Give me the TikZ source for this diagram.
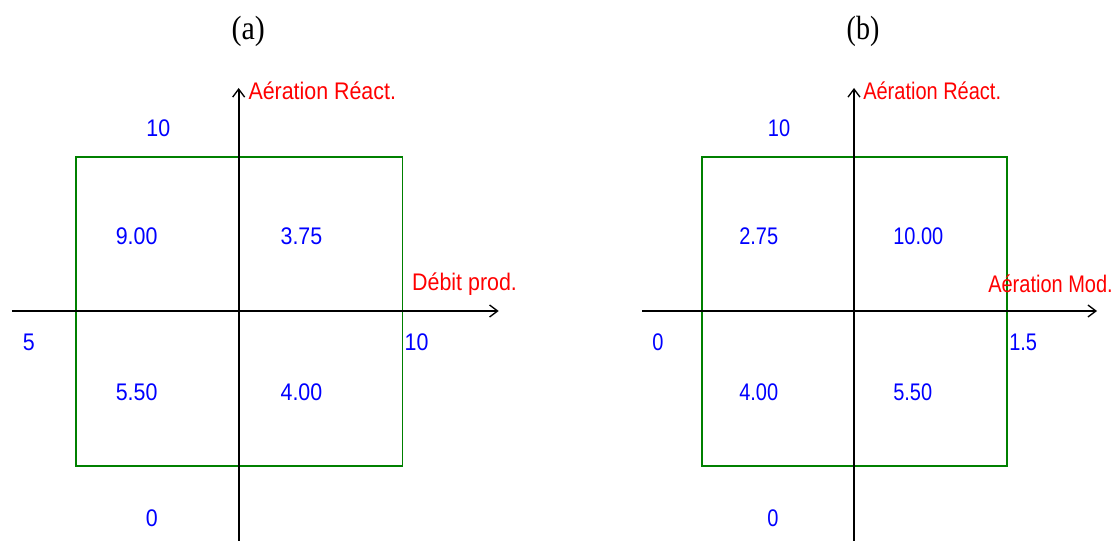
\documentclass[tikz,border=0pt]{standalone}
\usepackage{fontspec}
\setmainfont{Liberation Serif}
\newfontfamily\guifont{Liberation Sans}
\usepackage{xcolor}
\usepackage{graphicx}
\usetikzlibrary{arrows.meta}
\definecolor{guiblue}{RGB}{0,0,255}
\definecolor{guired}{RGB}{255,0,0}
\definecolor{guigreen}{RGB}{0,128,0}
\newcommand{\stretched}[1]{\scalebox{\sx}[1.2]{#1}}
\tikzset{
  axis/.style = {line width=1.3pt, -{Straight Barb[length=6pt,width=9pt,line width=1pt]}},
  frame/.style = {draw=guigreen, line width=1.3pt},
  val/.style = {text=guiblue, inner sep=0pt, font=\guifont\fontsize{15}{18}\selectfont},
  axlab/.style = {text=guired, inner sep=0pt, anchor=west, font=\guifont\fontsize{15}{18}\selectfont},
  title/.style = {inner sep=0pt, font=\fontsize{21}{25}\selectfont}
}

\begin{document}
\begin{tikzpicture}[x=0.75pt, y=-0.75pt]
  \useasboundingbox (0,0) rectangle (1119,541);

  \foreach \dx/\sx/\p/\xlab/\xlx/\xl/\xr/\tl/\tr/\bl/\br in
    {0/1.07/a/{Débit prod.}/385/5/10/9.00/3.75/5.50/4.00,
     631/1/b/{Aération Mod.}/357/0/1.5/2.75/10.00/4.00/5.50}{
  \begin{scope}[shift={(\dx,0)}, xscale=\sx]
    \node[title] (title-\p) at (232, 31) {\stretched{(\p)}};

    % rule square
    \coordinate (nw-\p) at (71, 157);
    \coordinate (se-\p) at (376, 466);
    \draw[frame] (nw-\p) rectangle (se-\p);

    % axes
    \coordinate (ybot-\p) at (223, 541);
    \coordinate (ytop-\p) at (223, 88);
    \coordinate (xleft-\p) at (11, 311);
    \coordinate (xright-\p) at (466, 311);
    \draw[axis] (ybot-\p) -- (ytop-\p);
    \draw[axis] (xleft-\p) -- (xright-\p);
    \node[axlab] (ylab-\p) at (232, 91) {\stretched{Aération Réact.}};
    \node[axlab] (xlab-\p) at (\xlx, 284) {\stretched{\xlab}};

    % bounds
    \node[val] (ymax-\p) at (148, 128) {\stretched{10}};
    \node[val] (ymin-\p) at (142, 518) {\stretched{0}};
    \node[val] (xmin-\p) at (27, 342) {\stretched{\xl}};
    \node[val, anchor=west] (xmax-\p) at (378, 342) {\stretched{\xr}};

    % quadrant values
    \node[val, anchor=west] (q1-\p) at (108, 236) {\stretched{\tl}};
    \node[val, anchor=west] (q2-\p) at (262, 236) {\stretched{\tr}};
    \node[val, anchor=west] (q3-\p) at (108, 392) {\stretched{\bl}};
    \node[val, anchor=west] (q4-\p) at (262, 392) {\stretched{\br}};
  \end{scope}
  }
\end{tikzpicture}
\end{document}
